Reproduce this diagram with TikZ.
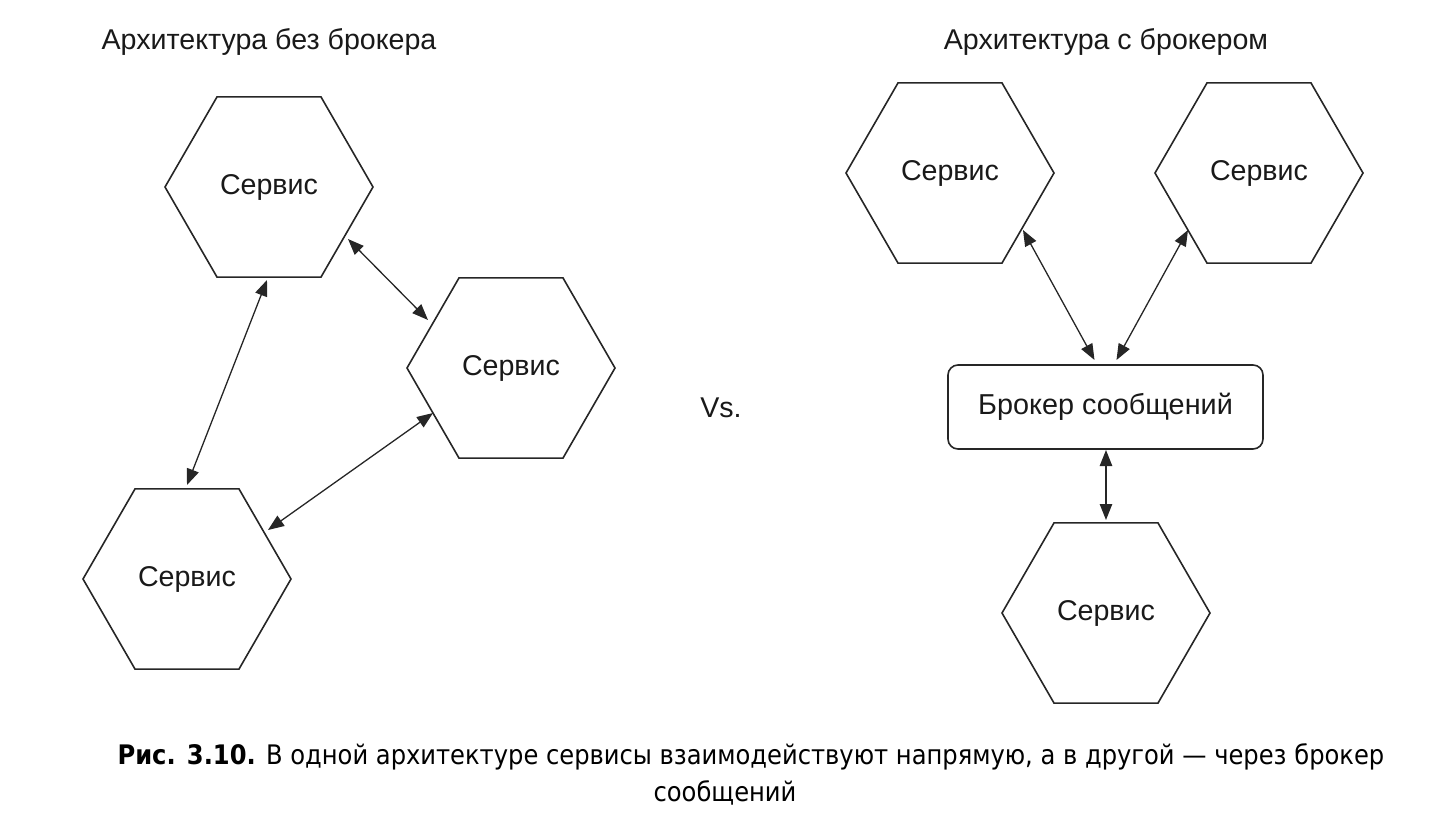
\documentclass[tikz,border=0pt]{standalone}
\usepackage{fontspec}
\setmainfont{Liberation Sans}
\newfontfamily\capfont{DejaVu Sans Condensed}
\usetikzlibrary{shapes.geometric,arrows.meta}
\begin{document}
\begin{tikzpicture}[x=0.5pt,y=-0.5pt,
  hexa/.style={draw=black!85,line width=0.8pt,regular polygon,regular polygon sides=6,
    minimum size=104pt,inner sep=0pt,font=\fontsize{14.3}{16}\selectfont,text=black!90},
  broker/.style={draw=black!85,line width=0.8pt,rounded corners=5pt,minimum width=157.5pt,
    minimum height=42pt,inner sep=0pt,font=\fontsize{14.4}{16}\selectfont,text=black!90},
  lbl/.style={font=\fontsize{14.3}{16}\selectfont,text=black!90,inner sep=0pt},
  arr/.style={line width=0.65pt,draw=black!85,{Triangle[length=8pt,width=6.2pt]}-{Triangle[length=8pt,width=6.2pt]}},
  captxt/.style={font=\capfont\fontsize{13.45}{15}\selectfont,inner sep=0pt}]
\useasboundingbox (0,0) rectangle (1452,836);
% left
\node[lbl] (t1) at (269,42) {Архитектура без брокера};
\node[hexa] (h1) at (269,187) {Сервис};
\node[hexa] (h2) at (511,368) {Сервис};
\node[hexa] (h3) at (187,579) {Сервис};
\draw[arr] ([shift={(79,52)}]h1.center) -- ([shift={(-83,-48)}]h2.center);
\draw[arr] ([shift={(-2,93)}]h1.center) -- ([shift={(0,-94)}]h3.center);
\draw[arr] ([shift={(81,-49)}]h3.center) -- ([shift={(-78,45)}]h2.center);
% middle
\node[lbl] (vs) at (721,408) {Vs.};
% right
\node[lbl] (t2) at (1106,42) {Архитектура с брокером};
\node[hexa] (h4) at (950,173) {Сервис};
\node[hexa] (h5) at (1259,173) {Сервис};
\node[broker] (b) at (1105.5,407) {Брокер сообщений};
\node[hexa] (h6) at (1106,613) {Сервис};
\draw[arr] ([shift={(73,57)}]h4.center) -- ([shift={(-11,-47)}]b.center);
\draw[arr] ([shift={(-71,57)}]h5.center) -- ([shift={(11,-47)}]b.center);
\draw[arr] ([shift={(0.5,43)}]b.center) -- ([shift={(0,-93)}]h6.center);
% caption
\node[captxt] (c1) at (751,757) {\textbf{Рис. 3.10.} В одной архитектуре сервисы взаимодействуют напрямую, а в другой — через брокер};
\node[captxt] (c2) at (725,793) {сообщений};
\end{tikzpicture}
\end{document}
